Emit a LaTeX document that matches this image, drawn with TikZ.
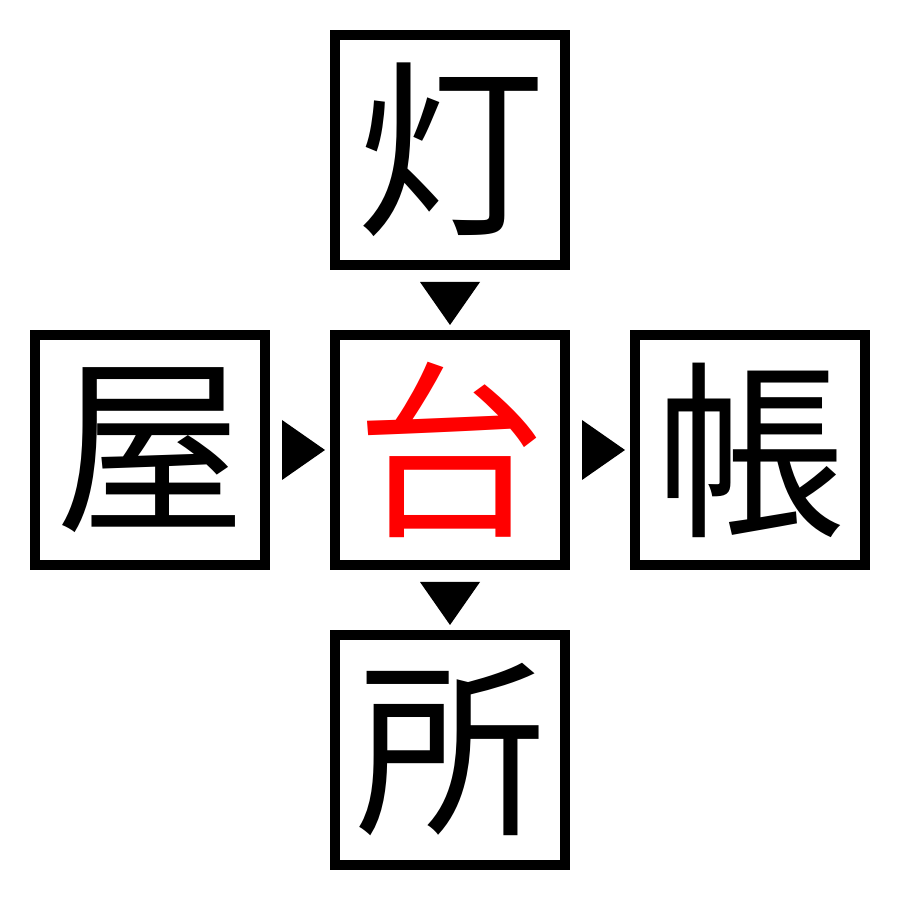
\documentclass[tikz,border=0pt]{standalone}
\usepackage{fontspec}
\newfontfamily\jpfont{Noto Sans CJK JP}
\usetikzlibrary{positioning,calc}
\tikzset{
  charbox/.style={draw, line width=10pt, minimum size=230pt, inner sep=0pt,
    font=\jpfont\fontsize{190}{190}\selectfont},
  pointer/.style={fill=black},
}
\begin{document}
\begin{tikzpicture}[x=1pt,y=1pt,node distance=60pt]
  \useasboundingbox (0,0) rectangle (900,900);
  \node[charbox, text=red] (tai) at (450,450) {台};
  \node[charbox, above=of tai] (tou) {灯};
  \node[charbox, below=of tai] (sho) {所};
  \node[charbox, left=of tai] (ya) {屋};
  \node[charbox, right=of tai] (chou) {帳};
  % pointers between the boxes
  \coordinate (p1) at ($(tou.south)!0.5!(tai.north)$);
  \coordinate (p2) at ($(tai.south)!0.5!(sho.north)$);
  \coordinate (p3) at ($(ya.east)!0.5!(tai.west)$);
  \coordinate (p4) at ($(tai.east)!0.5!(chou.west)$);
  \fill[pointer] ([shift={(-30,18)}]p1) -- ([shift={(30,18)}]p1) -- ([shift={(0,-25)}]p1) -- cycle;
  \fill[pointer] ([shift={(-30,18)}]p2) -- ([shift={(30,18)}]p2) -- ([shift={(0,-25)}]p2) -- cycle;
  \fill[pointer] ([shift={(-18,30)}]p3) -- ([shift={(-18,-30)}]p3) -- ([shift={(25,0)}]p3) -- cycle;
  \fill[pointer] ([shift={(-18,30)}]p4) -- ([shift={(-18,-30)}]p4) -- ([shift={(25,0)}]p4) -- cycle;
\end{tikzpicture}
\end{document}
